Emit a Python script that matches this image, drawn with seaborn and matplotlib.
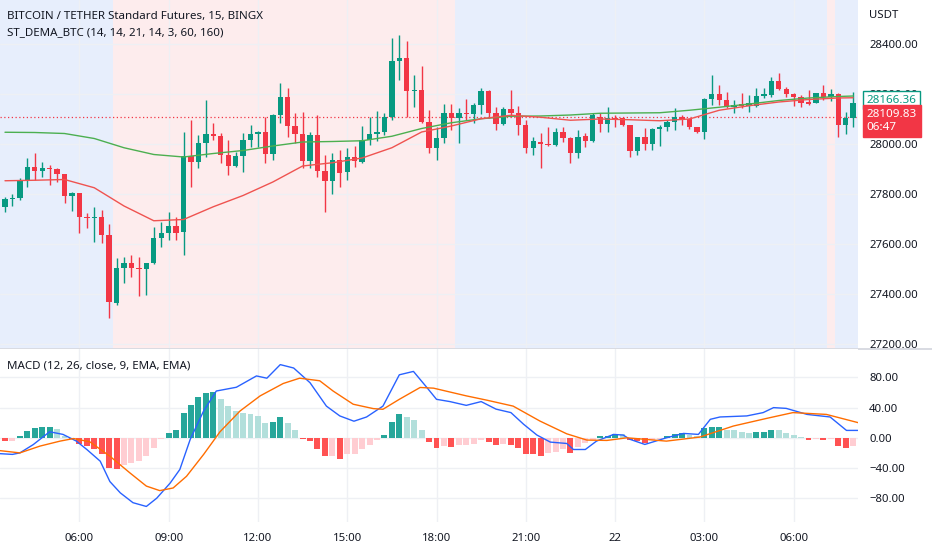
import numpy as np
import pandas as pd
import matplotlib
matplotlib.use("Agg")
import matplotlib.pyplot as plt
from matplotlib.patches import Rectangle
from matplotlib.ticker import FuncFormatter
import seaborn as sns

sns.set_theme(style="white")
plt.rcParams['font.family'] = ['Noto Sans', 'DejaVu Sans']

# 15 minute bars, 21 Apr 03:30 -> 22 Apr 08:00
times = pd.date_range("2023-04-21 03:30", periods=115, freq="15min")

opens = [27747, 27780, 27783, 27856, 27909, 27893, 27903, 27900, 27880, 27792,
         27803, 27709, 27704, 27709, 27636, 27363, 27503, 27523, 27503, 27500,
         27523, 27623, 27645, 27672, 27647, 27952, 27927, 28005, 28040, 28033,
         27956, 27912, 27952, 28016, 28040, 28049, 27960, 28116, 28187, 28072,
         28040, 27933, 28036, 27893, 27852, 27936, 27889, 27947, 27929, 28016,
         28039, 28049, 28109, 28332, 28343, 28213, 28216, 28087, 27985, 28023,
         28125, 28103, 28125, 28119, 28155, 28212, 28125, 28079, 28139, 28125,
         28075, 27983, 28008, 28000, 27996, 28049, 28023, 27963, 28032, 28013,
         28109, 28080, 28105, 28103, 28076, 27973, 28027, 28000, 28059, 28069,
         28087, 28109, 28100, 28067, 28047, 28179, 28200, 28176, 28149, 28159,
         28152, 28152, 28192, 28196, 28253, 28219, 28200, 28187, 28169, 28165,
         28203, 28187, 28199, 28076, 28103]
highs = [27789, 27800, 27863, 27943, 27963, 27929, 27916, 27903, 27880, 27809,
         27805, 27723, 27749, 27736, 27680, 27543, 27549, 27556, 27549, 27525,
         27669, 27689, 27729, 27709, 28049, 28096, 28036, 28176, 28083, 28043,
         28016, 27969, 28043, 28076, 28052, 28109, 28120, 28243, 28223, 28123,
         28129, 28049, 28116, 27956, 27963, 27976, 27983, 27992, 28072, 28107,
         28133, 28125, 28423, 28436, 28413, 28276, 28312, 28136, 28069, 28159,
         28159, 28143, 28180, 28163, 28223, 28215, 28147, 28147, 28216, 28152,
         28096, 28027, 28043, 28069, 28063, 28069, 28026, 28056, 28043, 28123,
         28123, 28147, 28116, 28109, 28076, 28029, 28063, 28063, 28076, 28096,
         28143, 28116, 28103, 28069, 28183, 28276, 28236, 28209, 28176, 28205,
         28196, 28223, 28223, 28267, 28285, 28227, 28205, 28196, 28216, 28205,
         28236, 28219, 28203, 28129, 28209]
lows = [27727, 27752, 27776, 27829, 27856, 27869, 27836, 27849, 27763, 27733,
        27643, 27663, 27609, 27603, 27303, 27356, 27443, 27469, 27392, 27396,
        27520, 27589, 27616, 27616, 27556, 27829, 27903, 27949, 28016, 27923,
        27876, 27909, 27889, 27989, 27989, 27923, 27936, 28083, 28029, 28003,
        27903, 27903, 27869, 27729, 27800, 27829, 27856, 27909, 27925, 27996,
        28013, 28036, 28096, 28256, 28109, 28149, 28083, 27963, 27936, 28003,
        28056, 28003, 28096, 28083, 28119, 28103, 28056, 28076, 28109, 28036,
        27963, 27956, 27903, 27992, 27992, 28009, 27923, 27943, 27987, 28009,
        28049, 28049, 28069, 28072, 27947, 27956, 27976, 27976, 27992, 28053,
        28056, 28076, 28060, 28043, 28019, 28156, 28156, 28143, 28123, 28143,
        28129, 28149, 28183, 28187, 28216, 28189, 28152, 28149, 28156, 28163,
        28176, 28173, 28029, 28040, 28069]
closes = [27780, 27783, 27856, 27909, 27893, 27903, 27900, 27880, 27792, 27803,
          27709, 27704, 27709, 27636, 27369, 27503, 27523, 27503, 27500, 27523,
          27623, 27645, 27672, 27645, 27952, 27927, 28005, 28040, 28033, 27956,
          27912, 27952, 28016, 28040, 28049, 27960, 28116, 28187, 28072, 28040,
          27933, 28036, 27893, 27852, 27936, 27885, 27949, 27933, 28016, 28039,
          28049, 28109, 28332, 28343, 28213, 28216, 28089, 27985, 28023, 28123,
          28103, 28125, 28119, 28155, 28212, 28125, 28079, 28139, 28125, 28075,
          27983, 28012, 28000, 27996, 28049, 28023, 27963, 28029, 28013, 28116,
          28080, 28105, 28099, 28076, 27973, 28027, 28000, 28059, 28069, 28087,
          28109, 28100, 28067, 28047, 28179, 28200, 28176, 28149, 28156, 28152,
          28163, 28192, 28200, 28253, 28219, 28200, 28187, 28165, 28160, 28203,
          28187, 28199, 28076, 28103, 28163]

# trend background: (colour, number of bars)
regime_runs = [("up", 15), ("down", 46), ("up", 50), ("down", 1), ("up", 3)]

# ST_DEMA lines, read hourly (bar index)
dema_bar = [0, 4, 8, 12, 16, 20, 24, 28, 32, 36, 40, 44, 48, 52, 56, 60, 64,
            68, 72, 76, 80, 84, 88, 92, 96, 100, 104, 108, 112, 114]
dema_slow = [28047, 28046, 28042, 28022, 27985, 27958, 27948, 27962, 27974,
             27992, 28008, 28010, 28013, 28031, 28062, 28085, 28101, 28111,
             28112, 28116, 28123, 28124, 28125, 28135, 28147, 28160, 28174,
             28184, 28190, 28192]
dema_fast = [27853, 27855, 27858, 27825, 27752, 27693, 27698, 27749, 27794,
             27848, 27912, 27925, 27944, 27985, 28048, 28072, 28101, 28115,
             28107, 28095, 28100, 28097, 28093, 28100, 28135, 28153, 28168,
             28178, 28184, 28185]

last_price = 28109.83
dema_label = 28166.36
countdown = "06:47"

# MACD (12, 26, close, 9)
hist = [-4.4, -3.6, 2.2, 8.9, 12.4, 14.2, 14.5, 12, 3, -1,
        -8, -11, -15.5, -21, -40, -41, -36, -33, -31, -24,
        -13, -2, 6.7, 11, 33, 44, 54, 60, 60.5, 52,
        42, 35.5, 33, 32, 29, 19, 21, 27, 19, 11,
        -2, -4.4, -15.5, -24, -23.5, -27.5, -22, -21, -15.5, -9,
        -3, 3.5, 21, 31, 27.5, 23, 11, -5.3, -13, -11,
        -12.4, -10, -9, -8.8, -3.5, -5.3, -10, -8, -9, -13,
        -21, -22, -24, -20, -18.7, -15.5, -20, -12.4, -6.7, -3.5,
        2, 2.2, 5.3, 4.4, -3.5, -4.4, -6.7, -3.5, -1.8, 2.2,
        5.3, 6.7, 3.5, 2.2, 13.3, 14.2, 14.5, 11, 9.8, 8,
        6.7, 8, 8.2, 11, 9.8, 6.7, 3.5, 0.5, -3.5, -1.5,
        -3.5, -1.8, -11, -14, -11]
macd_bar = [-0.7, 1, 2, 3.8, 6, 7.8, 9.6, 11, 12.8, 14.1, 15.5, 17.2, 19, 20.4,
            22.2, 23.5, 24.9, 26.7, 28.4, 31.1, 33.8, 35.2, 37, 38.8, 41, 43.2,
            45, 46.9, 48.6, 50.8, 53, 54.9, 56.7, 58, 59.8, 62, 64, 66, 68,
            69.7, 71.5, 73.3, 75.5, 76.4, 78, 79.5, 81.8, 83.1, 84, 86, 88.9,
            91.2, 93.2, 94.8, 96.1, 99.7, 101.9, 103.3, 105, 107.8, 110.9,
            113.1, 114.7]
macd_line = [-21, -22, -20, -9, 8, 4.5, -4.4, -15.5, -31, -58, -73, -86, -91,
             -80, -60, -42, -2, 35.6, 62, 67, 82, 79, 97, 92.5, 73, 42, 29, 22,
             27.6, 42, 83.5, 88, 66.7, 51, 48, 43, 48, 38, 33.4, 18, 3.6, -5.7,
             -7.5, -15.5, -15.5, -4.4, 4.5, 3.6, -2, -8.8, 0, 5.8, 4.5, 24.5,
             27.6, 29, 33.4, 40, 39, 31, 27.6, 9.8, 9.8]
signal_bar = [-0.7, 2, 4.7, 7.4, 9.2, 11.4, 14.1, 16.8, 19, 20.8, 22.6, 24.4,
              26.7, 28.9, 31.6, 34.3, 37.4, 39.6, 42.3, 44.1, 46.8, 49.5, 50.8,
              53, 55.8, 57.6, 62, 64.8, 68.3, 71.9, 75.5, 78.2, 80.9, 83.6,
              88.9, 93.4, 97.9, 102.4, 105.9, 110.4, 114.7]
signal_line = [-17, -20, -11, -4.4, -1, -5.3, -24.4, -46.6, -64, -70, -66.5,
               -51, -22, 8, 35.6, 55.6, 72, 79, 75.6, 62, 44.5, 38.7, 37.8, 51,
               66.7, 65.8, 55.6, 49.8, 42, 22.2, 5.3, -3, -3.5, 0, -4.4, 1,
               15.6, 25.8, 33.4, 31, 20]

UP = '#089981'
DOWN = '#f23645'
BG = {"up": '#e7eefc', "down": '#fdeced'}
GRID = '#eef0f4'
TEXT = '#131722'

W, H = 932, 550
fig = plt.figure(figsize=(W / 100, H / 100), dpi=100)
fig.patch.set_facecolor('white')

plot_w = 858 / W
ax = fig.add_axes([0, 1 - 348 / H, plot_w, 348 / H])
axm = fig.add_axes([0, 1 - 522 / H, plot_w, (522 - 349) / H])
axm.set_zorder(3)

bars = np.arange(len(times))
xlo, xhi = -0.67, 114.65

# ---- price panel
start = 0
for i, (kind, n) in enumerate(regime_runs):
    a = xlo if i == 0 else start - 0.5
    b = xhi if i == len(regime_runs) - 1 else start + n - 0.5
    ax.axvspan(a, b, color=BG[kind], lw=0, zorder=0)
    start += n

o = np.array(opens, float)
c = np.array(closes, float)
colors = [UP if cc >= oo else DOWN for oo, cc in zip(o, c)]
ax.vlines(bars, lows, highs, colors=colors, lw=1, zorder=3)
body = np.maximum(np.abs(c - o), 3)
ax.bar(bars, body, bottom=np.minimum(o, c), width=0.72, color=colors,
       lw=0, zorder=4)

sns.lineplot(x=dema_bar, y=dema_slow, ax=ax, color='#4caf50', lw=1, zorder=5)
sns.lineplot(x=dema_bar, y=dema_fast, ax=ax, color='#ef5350', lw=1, zorder=5)

ax.axhline(last_price, color=DOWN, lw=0.9, ls=(0, (1, 2)), zorder=2)

ax.set_xlim(xlo, xhi)
ax.set_ylim(27184, 28576)
ax.yaxis.tick_right()
ax.set_yticks(np.arange(27200, 28401, 200))
ax.yaxis.set_major_formatter(FuncFormatter(lambda v, p: f"{v:.2f}"))
ax.tick_params(axis='y', length=0, pad=8, labelsize=8.2, labelcolor=TEXT)

tick_bars = [i for i, t in enumerate(times) if t.minute == 0 and t.hour % 3 == 0]
tick_labels = [str(times[i].day) if times[i].hour == 0 else times[i].strftime("%H:%M")
               for i in tick_bars]
ax.set_xticks(tick_bars)
ax.tick_params(axis='x', length=0, labelbottom=False)
ax.grid(True, color=GRID, lw=1, zorder=1)
ax.set_axisbelow(True)
for s in ax.spines.values():
    s.set_visible(False)

ax.text(7 / 858, 1 - 16 / 348, "BITCOIN / TETHER Standard Futures, 15, BINGX",
        transform=ax.transAxes, fontsize=8.3, fontweight='bold', color=TEXT,
        va='center', ha='left', zorder=10)
ax.text(7 / 858, 1 - 33 / 348, "ST_DEMA_BTC (14, 14, 21, 14, 3, 60, 160)",
        transform=ax.transAxes, fontsize=8.3, color=TEXT, va='center',
        ha='left', zorder=10)
fig.text(869 / W, 1 - 15 / H, "USDT", fontsize=8.2, color=TEXT, va='center')

ax.annotate(f"{dema_label:.2f}", xy=(1.0, dema_label), xycoords=('axes fraction', 'data'),
            xytext=(6.3, 1.5), textcoords='offset points', fontsize=8.4, color=UP,
            va='center', ha='left', annotation_clip=False, zorder=20,
            bbox=dict(boxstyle='square,pad=0.3', fc='white', ec=UP, lw=1))
ax.annotate(f"{last_price:.2f}\n{countdown}", xy=(1.0, last_price),
            xycoords=('axes fraction', 'data'), xytext=(6.3, 5.5),
            textcoords='offset points', fontsize=8.4, color='white',
            va='top', ha='left', linespacing=1.3, annotation_clip=False, zorder=20,
            bbox=dict(boxstyle='square,pad=0.3', fc=DOWN, ec=DOWN, lw=1))

# mask below price panel (clips the bottom tick label) + separator
fig.patches.append(Rectangle((0, 0), 1, 1 - 348 / H, transform=fig.transFigure,
                             fc='white', ec='none', zorder=1))
fig.lines.append(plt.Line2D([0, 1], [1 - 348.5 / H] * 2, transform=fig.transFigure,
                            color='#d8dbe2', lw=1.4, zorder=2))

# ---- MACD panel
hcol = []
for i, v in enumerate(hist):
    prev = hist[i - 1] if i > 0 else v + 1
    if v >= 0:
        hcol.append('#26a69a' if v >= prev else '#b2dfdb')
    else:
        hcol.append('#ffcdd2' if v > prev else '#ff5252')
axm.bar(bars, hist, width=0.8, color=hcol, lw=0, zorder=2)
sns.lineplot(x=macd_bar, y=macd_line, ax=axm, color='#2962ff', lw=1, zorder=4)
sns.lineplot(x=signal_bar, y=signal_line, ax=axm, color='#ff6d00', lw=1, zorder=4)

axm.set_facecolor('white')
axm.set_xlim(xlo, xhi)
axm.set_ylim(-111.6, 117.7)
axm.yaxis.tick_right()
axm.set_yticks([-80, -40, 0, 40, 80])
axm.yaxis.set_major_formatter(FuncFormatter(lambda v, p: f"{v:.2f}".replace('-', '\u2212')))
axm.tick_params(axis='y', length=0, pad=8, labelsize=8.2, labelcolor=TEXT)
axm.set_xticks(tick_bars)
axm.set_xticklabels(tick_labels)
axm.tick_params(axis='x', length=0, pad=8, labelsize=8.2, labelcolor=TEXT)
for lab in axm.get_xticklabels():
    if ':' not in lab.get_text():
        lab.set_fontweight('bold')
axm.grid(True, color=GRID, lw=1, zorder=0)
axm.set_axisbelow(True)
for s in axm.spines.values():
    s.set_visible(False)
axm.text(7 / 858, 1 - (366 - 349) / 173, "MACD (12, 26, close, 9, EMA, EMA)",
         transform=axm.transAxes, fontsize=8.3, color=TEXT, va='center', ha='left')

fig.savefig("out.png", dpi=100, facecolor='white')
